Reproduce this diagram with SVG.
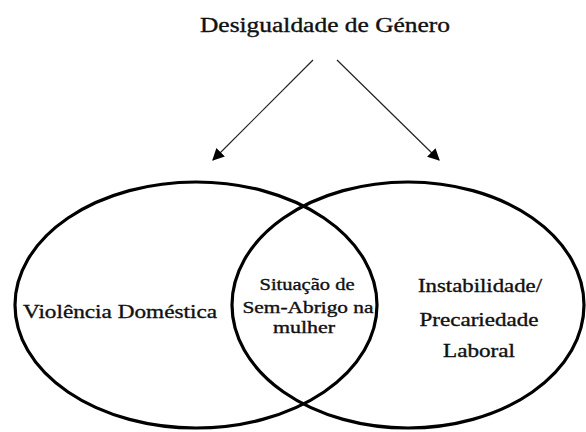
<svg xmlns="http://www.w3.org/2000/svg" width="586" height="432" viewBox="0 0 586 432" font-family="'Liberation Serif','Times New Roman',serif">
<style>
text{font-family:"Liberation Serif","Times New Roman",serif;fill:#111;stroke:#111;stroke-width:0.35;text-anchor:middle}
.c{fill:none;stroke:#000;stroke-width:3.2}
.a{stroke:#222;stroke-width:1.2;fill:none}
</style>
<defs>
<marker id="ah" viewBox="0 0 10 10" refX="9" refY="5" markerWidth="12" markerHeight="12" markerUnits="userSpaceOnUse" orient="auto">
<path d="M0,0L10,5L0,10z" fill="#000"/>
</marker>
</defs>
<rect width="586" height="432" fill="#fff"/>
<g id="title"><text x="325" y="32" font-size="20" textLength="250" lengthAdjust="spacingAndGlyphs">Desigualdade de Género</text></g>
<g id="connectors">
<line class="a" x1="313" y1="60" x2="213" y2="160" marker-end="url(#ah)"/>
<line class="a" x1="337" y1="60" x2="439" y2="160" marker-end="url(#ah)"/>
</g>
<g id="left"><ellipse class="c" cx="196" cy="305" rx="181" ry="123"/>
<text x="120" y="318" font-size="19" textLength="194" lengthAdjust="spacingAndGlyphs">Violência Doméstica</text></g>
<g id="right"><ellipse class="c" cx="408" cy="305" rx="176" ry="123"/>
<text x="480" y="292" font-size="18" textLength="124" lengthAdjust="spacingAndGlyphs">Instabilidade/</text>
<text x="479" y="326" font-size="18" textLength="119" lengthAdjust="spacingAndGlyphs">Precariedade</text>
<text x="479" y="357" font-size="18" textLength="72" lengthAdjust="spacingAndGlyphs">Laboral</text></g>
<g id="middle">
<text x="307" y="290" font-size="16" textLength="95" lengthAdjust="spacingAndGlyphs">Situação de</text>
<text x="308" y="313" font-size="16" textLength="131" lengthAdjust="spacingAndGlyphs">Sem-Abrigo na</text>
<text x="304" y="333" font-size="16" textLength="62" lengthAdjust="spacingAndGlyphs">mulher</text></g>
</svg>
